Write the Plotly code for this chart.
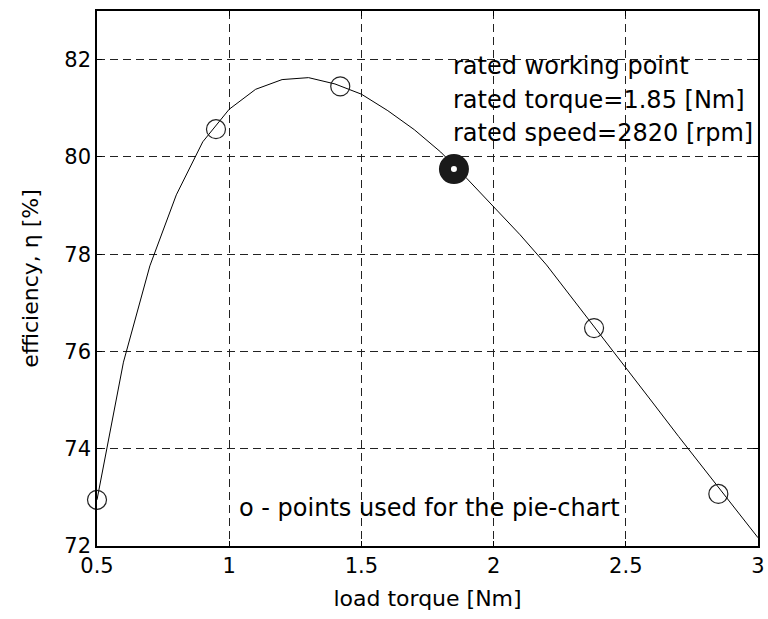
import plotly.graph_objects as go

# efficiency curve sampled every 0.1 Nm
torque = [0.5, 0.6, 0.7, 0.8, 0.9, 1.0, 1.1, 1.2, 1.3, 1.4, 1.5, 1.6, 1.7,
          1.8, 1.9, 2.0, 2.1, 2.2, 2.3, 2.4, 2.5, 2.6, 2.7, 2.8, 2.9, 3.0]
efficiency = [72.95, 75.78, 77.76, 79.22, 80.31, 80.98, 81.39, 81.59, 81.63,
              81.50, 81.29, 80.95, 80.56, 80.10, 79.55, 78.98, 78.40, 77.78,
              77.08, 76.36, 75.66, 74.96, 74.25, 73.55, 72.85, 72.17]

# points used for the pie-chart
pie_torque = [0.5, 0.95, 1.42, 2.38, 2.85]
pie_eff = [72.95, 80.57, 81.45, 76.48, 73.07]

# rated working point
rated_torque = [1.85]
rated_eff = [79.75]

fnt = "DejaVu Sans, Arial, sans-serif"

fig = go.Figure()
fig.add_trace(go.Scatter(x=torque, y=efficiency, mode="lines",
                         line=dict(color="black", width=1), showlegend=False))
fig.add_trace(go.Scatter(x=pie_torque, y=pie_eff, mode="markers",
                         marker=dict(symbol="circle-open", size=19, color="#222",
                                     line=dict(width=1.2, color="#222")),
                         showlegend=False, cliponaxis=False))
fig.add_trace(go.Scatter(x=rated_torque, y=rated_eff, mode="markers",
                         marker=dict(symbol="circle", size=18, color="white",
                                     line=dict(width=12, color="#1a1a1a")),
                         showlegend=False))

for y, txt in [(81.86, "rated working point"),
               (81.18, "rated torque=1.85 [Nm]"),
               (80.49, "rated speed=2820 [rpm]")]:
    fig.add_annotation(x=1.84, y=y, xref="x", yref="y", text=txt, showarrow=False,
                       xanchor="left", yanchor="middle",
                       font=dict(family=fnt, size=24, color="black"))
fig.add_annotation(x=1.03, y=72.78, xref="x", yref="y",
                   text="o - points used for the pie-chart", showarrow=False,
                   xanchor="left", yanchor="middle",
                   font=dict(family=fnt, size=24, color="black"))

axis_common = dict(showline=True, linecolor="black", linewidth=1.5, mirror="ticks",
                   ticks="inside", ticklen=5, tickcolor="black",
                   showgrid=True, gridcolor="#222", gridwidth=1, griddash="8px,5px",
                   zeroline=False, automargin=False,
                   tickfont=dict(family=fnt, size=21, color="black"))

fig.update_xaxes(range=[0.5, 3], tickvals=[0.5, 1, 1.5, 2, 2.5, 3],
                 ticktext=["0.5", "1", "1.5", "2", "2.5", "3"],
                 title=dict(text="load torque [Nm]", standoff=14,
                            font=dict(family=fnt, size=22, color="black")),
                 **axis_common)
fig.update_yaxes(range=[72, 83], tickvals=[72, 74, 76, 78, 80, 82],
                 title=dict(text="efficiency, η [%]", standoff=20,
                            font=dict(family=fnt, size=22, color="black")),
                 **axis_common)

fig.update_layout(width=768, height=619, plot_bgcolor="white", paper_bgcolor="white",
                  margin=dict(l=97, r=10, t=11, b=73), showlegend=False)

fig.write_html("out.html", config={"displayModeBar": False},
               post_script="document.body.style.margin='0';"
                           "document.body.style.overflow='hidden';")
